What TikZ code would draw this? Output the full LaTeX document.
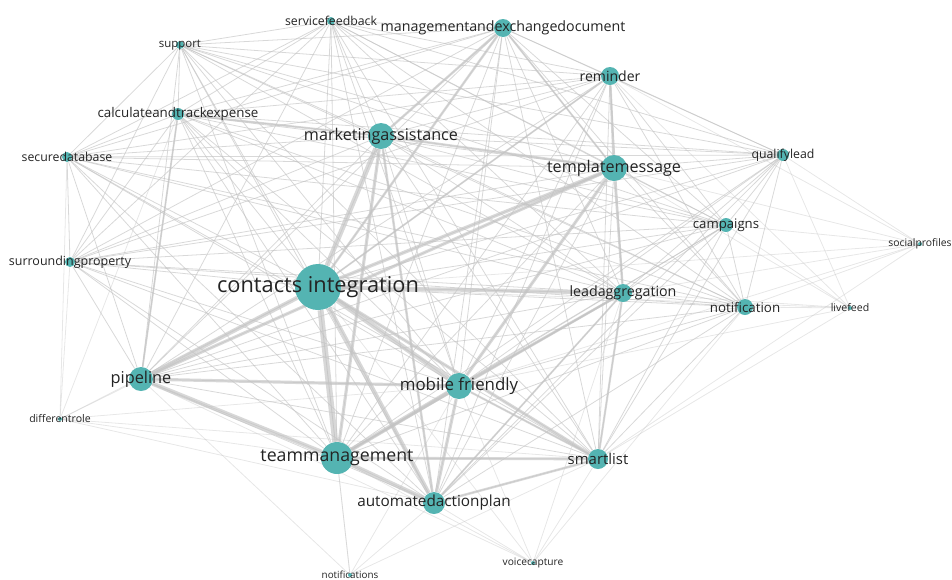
\documentclass[tikz,border=0pt]{standalone}
\usepackage{fontspec}
\setmainfont{Open Sans}
\usetikzlibrary{backgrounds}
\definecolor{dotcol}{RGB}{84,180,178}
\definecolor{linkcol}{RGB}{195,195,195}
\definecolor{textcol}{RGB}{35,35,35}
\tikzset{
  kw/.style={circle, fill=dotcol, inner sep=0pt, minimum size=#1*0.2mm},
  lab/.style={font=\fontsize{#1}{#1}\selectfont, text=textcol, inner sep=0pt},
  link/.style={draw=linkcol, line width=0.45pt, opacity=0.65},
  faint/.style={link, opacity=0.4},
}
\def\mainkw{sf,med,sup,rem,cat,ma,sd,tm,ql,cmp,srp,ci,la,nt,pl,mf,team,sl,aap}

\begin{document}
\begin{tikzpicture}[x=0.02cm, y=-0.02cm]
  \useasboundingbox (0,0) rectangle (952,579);
  % keywords, top to bottom
  \node[kw=8,  label={[lab=7]center:servicefeedback}] (sf) at (331,21) {};
  \node[kw=18, label={[lab=8.1]center:managementandexchangedocument}] (med) at (503,28) {};
  \node[kw=8,  label={[lab=6.5]center:support}] (sup) at (180,45) {};
  \node[kw=18, label={[lab=8]center:reminder}] (rem) at (610,76) {};
  \node[kw=12, label={[lab=7.6]center:calculateandtrackexpense}] (cat) at (178,114) {};
  \node[kw=26, label={[lab=9.2]center:marketingassistance}] (ma) at (381,136) {};
  \node[kw=10, label={[lab=7]center:securedatabase}] (sd) at (67,157) {};
  \node[kw=26, label={[lab=9.2]center:templatemessage}] (tm) at (614,168) {};
  \node[kw=12, label={[lab=7]center:qualifylead}] (ql) at (783,155) {};
  \node[kw=14, label={[lab=7.5]center:campaigns}] (cmp) at (726,225) {};
  \node[kw=4,  label={[lab=5.9]center:socialprofiles}] (sp) at (920,244) {};
  \node[kw=10, label={[lab=7.1]center:surroundingproperty}] (srp) at (70,262) {};
  \node[kw=46, label={[lab=12.4]center:contacts integration}] (ci) at (318,287) {};
  \node[kw=18, label={[lab=8.1]center:leadaggregation}] (la) at (623,293) {};
  \node[kw=16, label={[lab=7.6]center:notification}] (nt) at (745,307) {};
  \node[kw=4,  label={[lab=6]center:livefeed}] (lf) at (850,308) {};
  \node[kw=24, label={[lab=9.3]center:pipeline}] (pl) at (141,379) {};
  \node[kw=26, label={[lab=9.6]center:mobile friendly}] (mf) at (459,386) {};
  \node[kw=4,  label={[lab=6]center:differentrole}] (dr) at (60,419) {};
  \node[kw=32, label={[lab=10.1]center:teammanagement}] (team) at (337,458) {};
  \node[kw=20, label={[lab=8.5]center:smartlist}] (sl) at (598,459) {};
  \node[kw=22, label={[lab=8.7]center:automatedactionplan}] (aap) at (434,503) {};
  \node[kw=4,  label={[lab=5.8]center:voicecapture}] (vc) at (533,563) {};
  \node[kw=4,  label={[lab=5.6]center:notifications}] (nts) at (350,575) {};

  \begin{scope}[on background layer]
    % every pair of the main keywords
    \foreach \a [count=\i] in \mainkw
      \foreach \b [count=\j] in \mainkw
        {\ifnum\j>\i \draw[link] (\a) -- (\b); \fi}
    % the small keywords
    \foreach \a/\b in {sp/ql,sp/cmp,sp/nt,sp/la,sp/tm,sp/rem,sp/mf,sp/ci,sp/sl,
                       lf/ql,lf/cmp,lf/nt,lf/la,lf/tm,lf/mf,lf/sl,lf/ci,lf/rem,
                       dr/sd,dr/srp,dr/pl,dr/ci,dr/team,dr/mf,dr/aap,dr/sl,dr/cat,
                       vc/team,vc/aap,vc/sl,vc/mf,vc/ci,vc/la,vc/nt,vc/pl,
                       nts/team,nts/aap,nts/mf,nts/ci,nts/sl,nts/pl}
      \draw[faint] (\a) -- (\b);
    % strong co-occurrences
    \foreach \a/\b/\w in {ci/team/3.4pt, ci/ma/2.8pt, ci/mf/2.8pt, ci/aap/2.4pt,
                          ci/pl/2.4pt, ci/la/2.2pt, ci/tm/2pt, ci/sl/1.8pt,
                          pl/team/2.4pt, pl/mf/1.8pt, team/mf/2.4pt, team/aap/2.4pt,
                          team/sl/1.6pt, mf/aap/1.8pt, mf/tm/1.8pt, mf/la/1.4pt,
                          ma/team/1.8pt, ma/tm/1.4pt, ma/aap/1.4pt, tm/pl/1.8pt,
                          tm/rem/1.4pt, tm/la/1.4pt, med/ma/1.4pt, med/ci/1.4pt,
                          cat/ma/1.2pt, sl/la/1.2pt, sl/aap/1.4pt, med/tm/1pt,
                          rem/ci/1pt, pl/cat/1pt, team/la/1.2pt, aap/la/1pt, mf/sl/1.2pt}
      \draw[link, line width=\w] (\a) -- (\b);
  \end{scope}
\end{tikzpicture}
\end{document}
